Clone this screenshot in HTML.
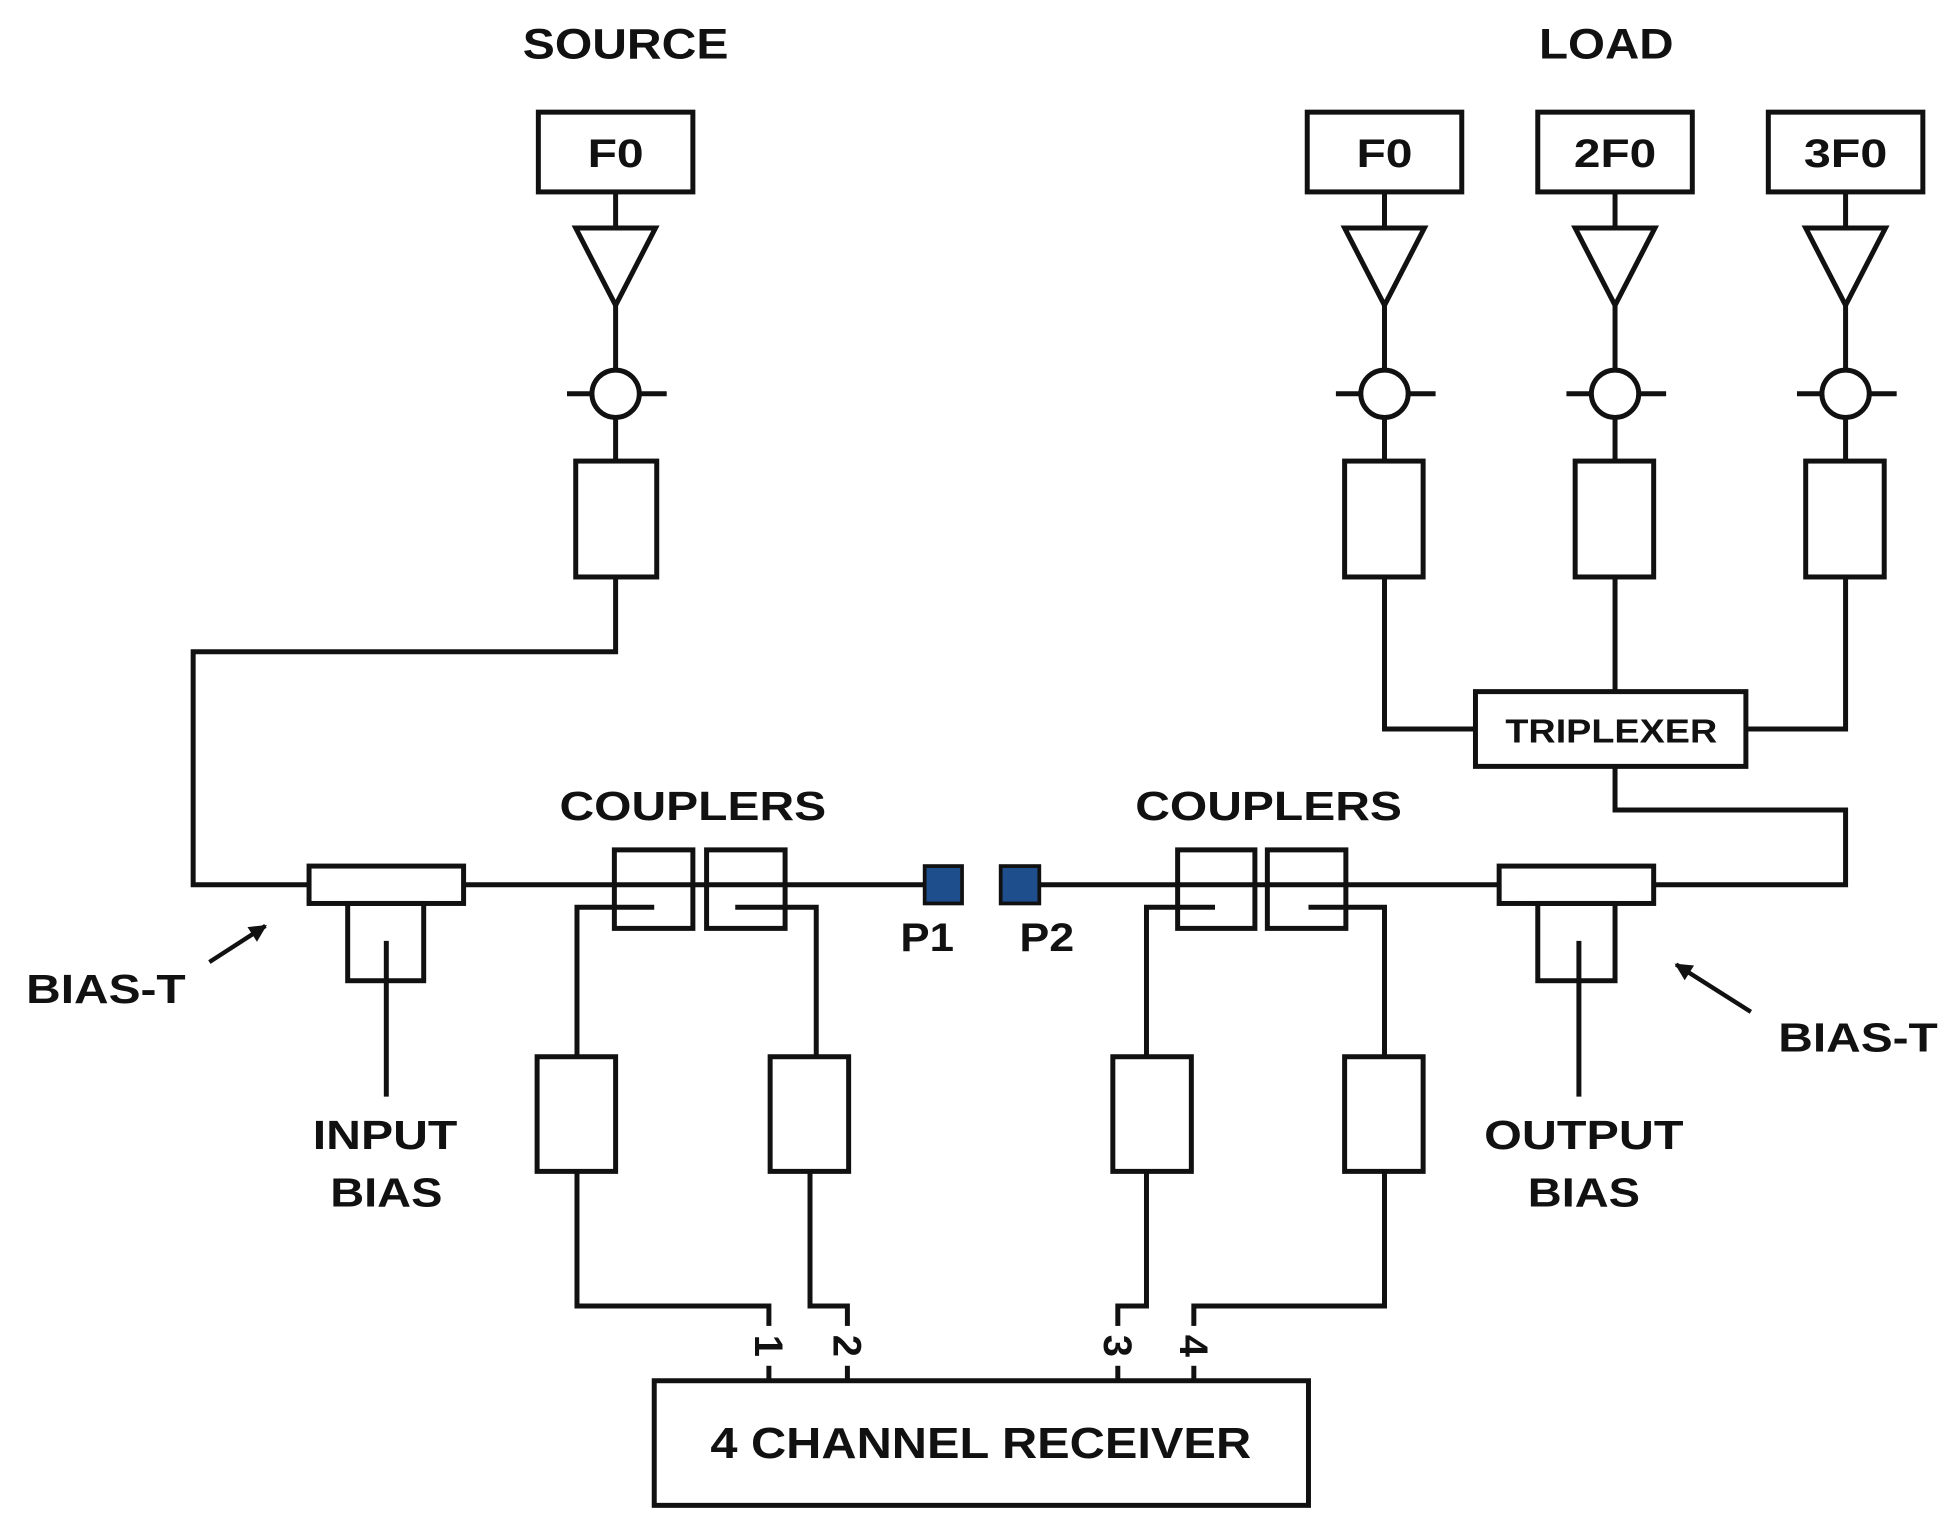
<!DOCTYPE html>
<html><head><style>html,body{margin:0;padding:0;background:#fff}svg{display:block}</style></head>
<body>
<svg width="1954" height="1539" viewBox="0 0 1568 1235" preserveAspectRatio="none" xmlns="http://www.w3.org/2000/svg">
<defs>
<marker id="ah2" viewBox="0 0 10 10" markerWidth="16" markerHeight="14" refX="9" refY="5" orient="auto" markerUnits="userSpaceOnUse"><path d="M0,0 L10,5 L0,10 Z" fill="#111"/></marker>
</defs>
<g fill="none" stroke="#111" stroke-width="4">
<rect x="432" y="90" width="124" height="64"/>
<line x1="494" y1="154" x2="494" y2="183"/>
<polygon points="462,183 526,183 494,245"/>
<line x1="494" y1="245" x2="494" y2="297"/>
<circle cx="494" cy="316" r="19"/>
<line x1="455" y1="316" x2="475" y2="316"/><line x1="513" y1="316" x2="535" y2="316"/>
<line x1="494" y1="335" x2="494" y2="370"/>
<rect x="462" y="370" width="65" height="93"/>
<polyline points="494,463 494,523 155,523 155,710 248,710"/>
<rect x="248" y="695" width="124" height="30"/>
<rect x="279" y="725" width="61" height="62"/>
<line x1="310" y1="755" x2="310" y2="880"/>
<line x1="372" y1="710" x2="742" y2="710"/>
<line x1="834" y1="710" x2="1203" y2="710"/>
<rect x="493" y="682" width="63" height="63"/>
<rect x="567" y="682" width="63" height="63"/>
<rect x="945" y="682" width="62" height="63"/>
<rect x="1017" y="682" width="63" height="63"/>
<polyline points="525,728 463,728 463,848"/>
<polyline points="590,728 655,728 655,848"/>
<polyline points="975,728 920,728 920,848"/>
<polyline points="1050,728 1111,728 1111,848"/>
<rect x="431" y="848" width="63" height="92"/>
<rect x="618" y="848" width="63" height="92"/>
<rect x="893" y="848" width="63" height="92"/>
<rect x="1079" y="848" width="63" height="92"/>
<polyline points="463,940 463,1048 617,1048 617,1108"/>
<polyline points="650,940 650,1048 680,1048 680,1108"/>
<polyline points="920,940 920,1048 897,1048 897,1108"/>
<polyline points="1111,940 1111,1048 958,1048 958,1108"/>
<rect x="525" y="1108" width="525" height="100"/>
<g id="col">
<rect x="1049" y="90" width="124" height="64"/>
<line x1="1111" y1="154" x2="1111" y2="183"/>
<polygon points="1079,183 1143,183 1111,245"/>
<line x1="1111" y1="245" x2="1111" y2="297"/>
<circle cx="1111" cy="316" r="19"/>
<line x1="1072" y1="316" x2="1092" y2="316"/><line x1="1130" y1="316" x2="1152" y2="316"/>
<line x1="1111" y1="335" x2="1111" y2="370"/>
<rect x="1079" y="370" width="63" height="93"/>
</g>
<use href="#col" x="185"/>
<use href="#col" x="370"/>
<polyline points="1111,463 1111,585 1184,585"/>
<line x1="1296" y1="463" x2="1296" y2="555"/>
<polyline points="1481,463 1481,585 1401,585"/>
<rect x="1184" y="555" width="217" height="60"/>
<polyline points="1296,615 1296,650 1481,650 1481,710 1327,710"/>
<rect x="1203" y="695" width="124" height="30"/>
<rect x="1234" y="725" width="62" height="62"/>
<line x1="1267" y1="755" x2="1267" y2="880"/>
<line x1="168" y1="772" x2="213" y2="743" stroke-width="3.5" marker-end="url(#ah2)"/>
<line x1="1405" y1="812" x2="1345" y2="774" stroke-width="3.5" marker-end="url(#ah2)"/>
</g>
<rect x="742" y="695" width="30" height="30" fill="#1f4e8c" stroke="#111" stroke-width="3"/>
<rect x="803" y="695" width="31" height="30" fill="#1f4e8c" stroke="#111" stroke-width="3"/>
<g font-family="Liberation Sans, sans-serif" font-weight="bold" fill="#111" text-anchor="middle" lengthAdjust="spacingAndGlyphs">
<text x="502" y="47" font-size="34" textLength="165" lengthAdjust="spacingAndGlyphs">SOURCE</text>
<text x="1289" y="47" font-size="34" textLength="108" lengthAdjust="spacingAndGlyphs">LOAD</text>
<text x="494" y="134" font-size="32" textLength="45" lengthAdjust="spacingAndGlyphs">F0</text>
<text x="1111" y="134" font-size="32" textLength="45" lengthAdjust="spacingAndGlyphs">F0</text>
<text x="1296" y="134" font-size="32" textLength="66" lengthAdjust="spacingAndGlyphs">2F0</text>
<text x="1481" y="134" font-size="32" textLength="67" lengthAdjust="spacingAndGlyphs">3F0</text>
<text x="1293" y="596" font-size="27" textLength="170" lengthAdjust="spacingAndGlyphs">TRIPLEXER</text>
<text x="556" y="658" font-size="33" textLength="214" lengthAdjust="spacingAndGlyphs">COUPLERS</text>
<text x="1018" y="658" font-size="33" textLength="214" lengthAdjust="spacingAndGlyphs">COUPLERS</text>
<text x="744" y="763" font-size="32" textLength="43" lengthAdjust="spacingAndGlyphs">P1</text>
<text x="840" y="763" font-size="32" textLength="44" lengthAdjust="spacingAndGlyphs">P2</text>
<text x="85" y="805" font-size="33" textLength="128" lengthAdjust="spacingAndGlyphs">BIAS-T</text>
<text x="1491" y="844" font-size="33" textLength="128" lengthAdjust="spacingAndGlyphs">BIAS-T</text>
<text x="309" y="922" font-size="33" textLength="116" lengthAdjust="spacingAndGlyphs">INPUT</text>
<text x="310" y="968" font-size="33" textLength="90" lengthAdjust="spacingAndGlyphs">BIAS</text>
<text x="1271" y="922" font-size="33" textLength="160" lengthAdjust="spacingAndGlyphs">OUTPUT</text>
<text x="1271" y="968" font-size="33" textLength="90" lengthAdjust="spacingAndGlyphs">BIAS</text>
<text x="787" y="1170" font-size="35" textLength="434" lengthAdjust="spacingAndGlyphs">4 CHANNEL RECEIVER</text>
<g font-size="32">
<rect x="603" y="1064" width="28" height="32" fill="#fff"/>
<text transform="translate(606,1080) rotate(90)">1</text>
<rect x="666" y="1064" width="28" height="32" fill="#fff"/>
<text transform="translate(669,1080) rotate(90)">2</text>
<rect x="883" y="1064" width="28" height="32" fill="#fff"/>
<text transform="translate(886,1080) rotate(90)">3</text>
<rect x="944" y="1064" width="28" height="32" fill="#fff"/>
<text transform="translate(947,1080) rotate(90)">4</text>
</g>
</g>
</svg>
</body></html>
